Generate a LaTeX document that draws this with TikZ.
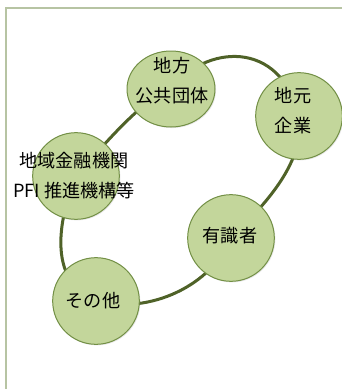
\documentclass[tikz,border=0pt]{standalone}
\usepackage{fontspec}
\setmainfont{Noto Sans CJK JP}
\usetikzlibrary{backgrounds,shadows,shapes.geometric}
\definecolor{bubfill}{HTML}{C3D69B}
\definecolor{bubline}{HTML}{728F45}
\definecolor{linkc}{HTML}{4F6228}
\definecolor{framec}{HTML}{B7C4A3}
\begin{document}
\begin{tikzpicture}[x=0.75pt,y=-0.75pt,
  bub/.style={circle, draw=bubline, line width=0.75pt, fill=bubfill,
    minimum size=65pt, inner sep=0pt,
    drop shadow={opacity=0.18, shadow xshift=0.8pt, shadow yshift=-0.8pt}},
  bubwide/.style={bub, ellipse, minimum width=66pt, minimum height=57pt},
  txt/.style={font=\fontsize{13.6}{22.5}\selectfont, align=center, inner sep=0pt, text=black},
  link/.style={draw=linkc, line width=2.25pt}]
\path[use as bounding box] (0,0) rectangle (342,389);
\draw[framec, line width=1.5pt] (6,389) -- (6,8) -- (342,8);

\node[bubwide] (A) at (171,89) {};
\node[bub] (B) at (299,116) {};
\node[bub] (C) at (231,238) {};
\node[bub] (D) at (96,301) {};
\node[bub] (E) at (76,176) {};

\node[txt] (At) at (172,81) {地方\\公共団体};
\node[txt] (Bt) at (293,111) {地元\\企業};
\node[txt] (Ct) at (230,236) {有識者};
\node[txt] (Dt) at (93,301) {その他};
\node[txt] (Et) at (74,176) {地域金融機関\\PFI 推進機構等};

\begin{scope}[on background layer]
\draw[link] (A.center) .. controls (205,45) and (280,38) .. (B.center);
\draw[link] (B.center) .. controls (305,160) and (270,200) .. (C.center);
\draw[link] (C.center) .. controls (212,285) and (150,315) .. (D.center);
\draw[link] (D.center) .. controls (45,280) and (60,215) .. (E.center);
\draw[link] (E.center) .. controls (100,150) and (140,100) .. (A.center);
\end{scope}
\end{tikzpicture}
\end{document}
